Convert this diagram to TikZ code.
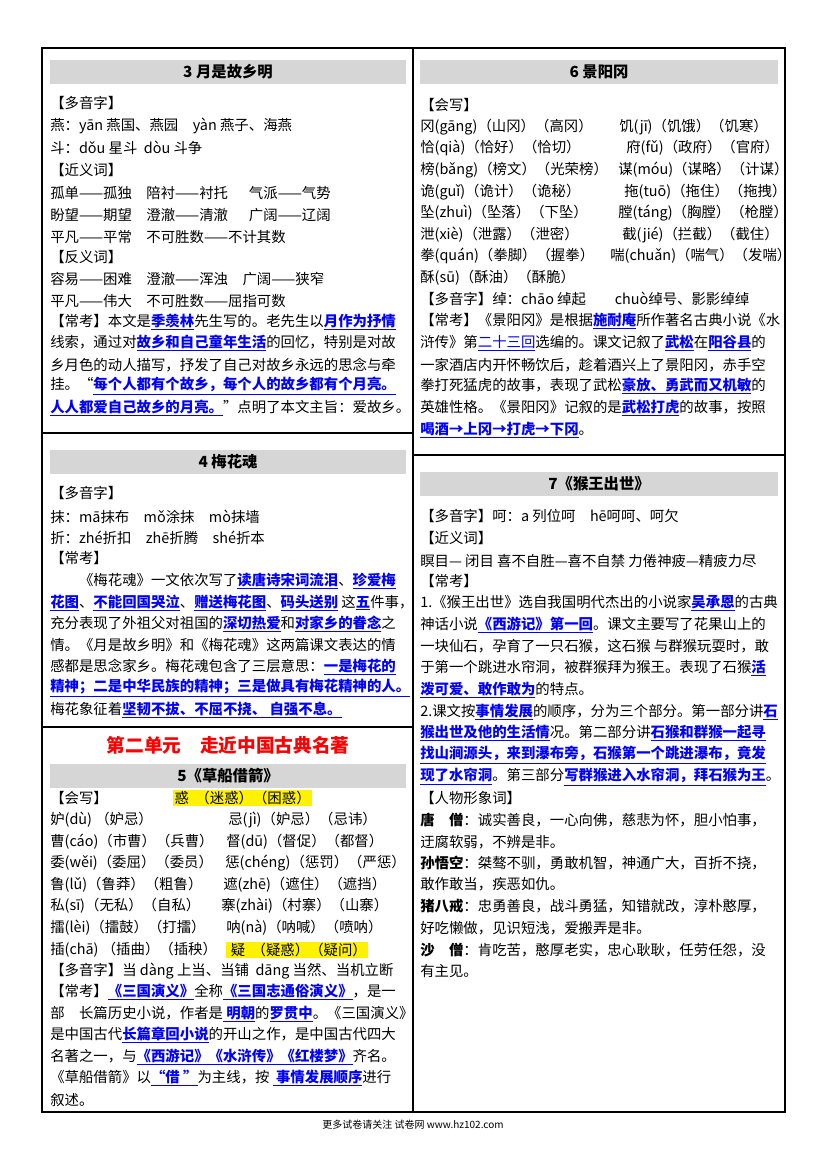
\documentclass[tikz,border=0pt]{standalone}
\usepackage{fontspec}
\setmainfont{Noto Sans CJK SC}
\usepackage{xcolor}
\usetikzlibrary{positioning}
\newcommand\kp[1]{\textcolor{blue}{\textbf{\underline{#1}}}}
\newcommand\kq[1]{\textcolor{blue}{\underline{#1}}}
\tikzset{
  ln/.style={anchor=west,inner sep=0pt,font=\fontsize{10.8}{13}\selectfont},
  hdr/.style={fill=black!16,minimum height=18pt,inner sep=0pt,font=\fontsize{11.5}{13}\selectfont\bfseries},
  hili/.style={fill=yellow,inner sep=1pt,anchor=west,font=\fontsize{10.8}{13}\selectfont}
}
\begin{document}
\begin{tikzpicture}[x=0.75pt,y=-0.75pt]
	\useasboundingbox (0,0) rectangle (827,1169);
	% frame
	\draw[line width=0.8pt] (42,48) rectangle (785,1112);
	\draw[line width=0.8pt] (413,48) -- (413,1112);
	\draw[line width=0.8pt] (42,433) -- (413,433) (42,727) -- (413,727) (413,455) -- (785,455);
	% 3
	\node[hdr,minimum width=267pt] (h3) at (228,72) {3 月是故乡明};
	\node[ln] (a1) at (50,103) {【多音字】};
	\node[ln] (a2) at (50,126) {燕：yān 燕国、燕园\quad yàn 燕子、海燕};
	\node[ln] (a3) at (50,148) {斗：dǒu 星斗\ \ dòu 斗争};
	\node[ln] (a4) at (50,170) {【近义词】};
	\node[ln] (a5) at (50,193) {孤单——孤独\quad 陪衬——衬托\quad\ \ 气派——气势};
	\node[ln] (a6) at (50,215) {盼望——期望\quad 澄澈——清澈\quad\ \ 广阔——辽阔};
	\node[ln] (a7) at (50,237) {平凡——平常\quad 不可胜数——不计其数};
	\node[ln] (a8) at (50,257) {【反义词】};
	\node[ln] (a9) at (50,279) {容易——困难\quad 澄澈——浑浊\quad 广阔——狭窄};
	\node[ln] (a10) at (50,301) {平凡——伟大\quad 不可胜数——屈指可数};
	\node[ln] (a11) at (50,322) {【常考】本文是\kp{季羡林}先生写的。老先生以\kp{月作为抒情}};
	\node[ln] (a12) at (50,343) {线索，通过对\kp{故乡和自己童年生活}的回忆，特别是对故};
	\node[ln] (a13) at (50,365) {乡月色的动人描写，抒发了自己对故乡永远的思念与牵};
	\node[ln] (a14) at (50,386) {挂。“\kp{每个人都有个故乡，每个人的故乡都有个月亮。}};
	\node[ln] (a15) at (50,408) {\kp{人人都爱自己故乡的月亮。}”点明了本文主旨：爱故乡。};
	% 4
	\node[hdr,minimum width=267pt] (h4) at (228,462) {4 梅花魂};
	\node[ln] (b1) at (50,493) {【多音字】};
	\node[ln] (b2) at (50,517) {抹：mā抹布\quad mǒ涂抹\quad mò抹墙};
	\node[ln] (b3) at (50,538) {折：zhé折扣\quad zhē折腾\quad shé折本};
	\node[ln] (b4) at (50,558) {【常考】};
	\node[ln] (b5) at (50,581) {\qquad《梅花魂》一文依次写了\kp{读唐诗宋词流泪}、\kp{珍爱梅}};
	\node[ln] (b6) at (50,603) {\kp{花图}、\kp{不能回国哭泣}、\kp{赠送梅花图}、\kp{码头送别}\ 这\kp{五}件事，};
	\node[ln] (b7) at (50,624) {充分表现了外祖父对祖国的\kp{深切热爱}和\kp{对家乡的眷念}之};
	\node[ln] (b8) at (50,645) {情。《月是故乡明》和《梅花魂》这两篇课文表达的情};
	\node[ln] (b9) at (50,667) {感都是思念家乡。梅花魂包含了三层意思：\kp{一是梅花的}};
	\node[ln] (b10) at (50,688) {\kp{精神；二是中华民族的精神；三是做具有梅花精神的人。}};
	\node[ln] (b11) at (50,710) {梅花象征着\kp{坚韧不拔、不屈不挠、\ 自强不息。}};
	% unit 2
	\node[font=\fontsize{14}{16}\selectfont\bfseries,text=red] (u2) at (228,745) {第二单元\quad 走近中国古典名著};
	\node[hdr,minimum width=267pt] (h5) at (228,776) {5《草船借箭》};
	\node[ln] (c1) at (50,798) {【会写】};
	\node[hili] (y1) at (173,798) {惑\ \ （迷惑）（困惑）};
	\node[ln] (c2) at (50,820) {妒(dù)\ （妒忌）};
	\node[ln] (c2r) at (228,820) {忌(jì)（妒忌）（忌讳）};
	\node[ln] (c3) at (50,842) {曹(cáo)（市曹）（兵曹）};
	\node[ln] (c3r) at (226,842) {督(dū)（督促）（都督）};
	\node[ln] (c4) at (50,863) {委(wěi)（委屈）（委员）};
	\node[ln] (c4r) at (225,863) {惩(chéng)（惩罚）（严惩）};
	\node[ln] (c5) at (50,885) {鲁(lǔ)（鲁莽）（粗鲁）};
	\node[ln] (c5r) at (223,885) {遮(zhē)（遮住）（遮挡）};
	\node[ln] (c6) at (50,906) {私(sī)（无私）（自私）};
	\node[ln] (c6r) at (221,906) {寨(zhài)（村寨）（山寨）};
	\node[ln] (c7) at (50,928) {擂(lèi)（擂鼓）（打擂）};
	\node[ln] (c7r) at (226,928) {呐(nà)（呐喊）（喷呐）};
	\node[ln] (c8) at (50,950) {插(chā)\ （插曲）（插秧）};
	\node[hili] (y2) at (226,950) {\ 疑\ \ （疑惑）（疑问）};
	\node[ln] (c9) at (50,971) {【多音字】当\ dàng\ 上当、当铺\ \ dāng\ 当然、当机立断};
	\node[ln] (c10) at (50,992) {【常考】\kp{《三国演义》}全称\kp{《三国志通俗演义》}，是一};
	\node[ln] (c11) at (50,1014) {部\quad 长篇历史小说，作者是\kp{\ 明朝}的\kp{罗贯中}。《三国演义》};
	\node[ln] (c12) at (50,1035) {是中国古代\kp{长篇章回小说}的开山之作，是中国古代四大};
	\node[ln] (c13) at (50,1057) {名著之一，与\kp{《西游记》《水浒传》《红楼梦》}齐名。};
	\node[ln] (c14) at (50,1078) {《草船借箭》以\kp{“借\ ”}为主线，按\ \kp{\ 事情发展顺序}进行};
	\node[ln] (c15) at (50,1100) {叙述。};
	% 6
	\node[hdr,minimum width=268pt] (h6) at (599,72) {6 景阳冈};
	\node[ln] (d1) at (420,105) {【会写】};
	\node[ln] (d2) at (420,127) {冈(gāng)（山冈）（高冈）};
	\node[ln] (d2r) at (619,127) {饥(jī)（饥饿）（饥寒）};
	\node[ln] (d3) at (420,148) {恰(qià)（恰好）（恰切）};
	\node[ln] (d3r) at (626,148) {府(fǔ)（政府）（官府）};
	\node[ln] (d4) at (420,170) {榜(bǎng)（榜文）（光荣榜）};
	\node[ln] (d4r) at (618,170) {谋(móu)（谋略）（计谋）};
	\node[ln] (d5) at (420,192) {诡(guǐ)（诡计）（诡秘）};
	\node[ln] (d5r) at (624,192) {拖(tuō)（拖住）（拖拽）};
	\node[ln] (d6) at (420,213) {坠(zhuì)（坠落）（下坠）};
	\node[ln] (d6r) at (618,213) {膛(táng)（胸膛）（枪膛）};
	\node[ln] (d7) at (420,235) {泄(xiè)（泄露）（泄密）};
	\node[ln] (d7r) at (622,235) {截(jié)（拦截）（截住）};
	\node[ln] (d8) at (420,256) {拳(quán)（拳脚）（握拳）};
	\node[ln] (d8r) at (610,256) {喘(chuǎn)（喘气）（发喘）};
	\node[ln] (d9) at (420,278) {酥(sū)（酥油）（酥脆）};
	\node[ln] (d10) at (420,299) {【多音字】绰：chāo\ 绰起\qquad chuò绰号、影影绰绰};
	\node[ln] (d11) at (420,321) {【常考】《景阳冈》是根据\kp{施耐庵}所作著名古典小说《水};
	\node[ln] (d12) at (420,343) {浒传》第\kq{二十三回}选编的。课文记叙了\kp{武松}在\kp{阳谷县}的};
	\node[ln] (d13) at (420,365) {一家酒店内开怀畅饮后，趁着酒兴上了景阳冈，赤手空};
	\node[ln] (d14) at (420,386) {拳打死猛虎的故事，表现了武松\kp{豪放、勇武而又机敏}的};
	\node[ln] (d15) at (420,408) {英雄性格。《景阳冈》记叙的是\kp{武松打虎}的故事，按照};
	\node[ln] (d16) at (420,430) {\kp{喝酒→上冈→打虎→下冈}。};
	% 7
	\node[hdr,minimum width=268pt] (h7) at (599,484) {7《猴王出世》};
	\node[ln] (e1) at (420,516) {【多音字】呵：a\ 列位呵\quad hē呵呵、呵欠};
	\node[ln] (e2) at (420,538) {【近义词】};
	\node[ln] (e3) at (420,561) {瞑目— 闭目\ 喜不自胜—喜不自禁\ 力倦神疲—精疲力尽};
	\node[ln] (e4) at (420,581) {【常考】};
	\node[ln] (e5) at (420,603) {1.《猴王出世》选自我国明代杰出的小说家\kp{吴承恩}的古典};
	\node[ln] (e6) at (420,625) {神话小说\kp{《西游记》第一回}。课文主要写了花果山上的};
	\node[ln] (e7) at (420,646) {一块仙石，孕育了一只石猴，这石猴\ 与群猴玩耍时，敢};
	\node[ln] (e8) at (420,668) {于第一个跳进水帘洞，被群猴拜为猴王。表现了石猴\kp{活}};
	\node[ln] (e9) at (420,690) {\kp{泼可爱、敢作敢为}的特点。};
	\node[ln] (e10) at (420,712) {2.课文按\kp{事情发展}的顺序，分为三个部分。第一部分讲\kp{石}};
	\node[ln] (e11) at (420,733) {\kp{猴出世及他的生活情}况。第二部分讲\kp{石猴和群猴一起寻}};
	\node[ln] (e12) at (420,755) {\kp{找山涧源头，来到瀑布旁，石猴第一个跳进瀑布，竟发}};
	\node[ln] (e13) at (420,777) {\kp{现了水帘洞}。第三部分\kp{写群猴进入水帘洞，拜石猴为王}。};
	\node[ln] (e14) at (420,798) {【人物形象词】};
	\node[ln] (e15) at (420,820) {\textbf{唐\quad 僧}：诚实善良，一心向佛，慈悲为怀，胆小怕事，};
	\node[ln] (e16) at (420,842) {迂腐软弱，不辨是非。};
	\node[ln] (e17) at (420,863) {\textbf{孙悟空}：桀骜不驯，勇敢机智，神通广大，百折不挠，};
	\node[ln] (e18) at (420,884) {敢作敢当，疾恶如仇。};
	\node[ln] (e19) at (420,906) {\textbf{猪八戒}：忠勇善良，战斗勇猛，知错就改，淳朴憨厚，};
	\node[ln] (e20) at (420,928) {好吃懒做，见识短浅，爱搬弄是非。};
	\node[ln] (e21) at (420,950) {\textbf{沙\quad 僧}：肯吃苦，憨厚老实，忠心耿耿，任劳任怨，没};
	\node[ln] (e22) at (420,971) {有主见。};
	% footer
	\node[font=\fontsize{7.5}{9}\selectfont] (ft) at (413,1125) {更多试卷请关注 试卷网 www.hz102.com};
\end{tikzpicture}
\end{document}
